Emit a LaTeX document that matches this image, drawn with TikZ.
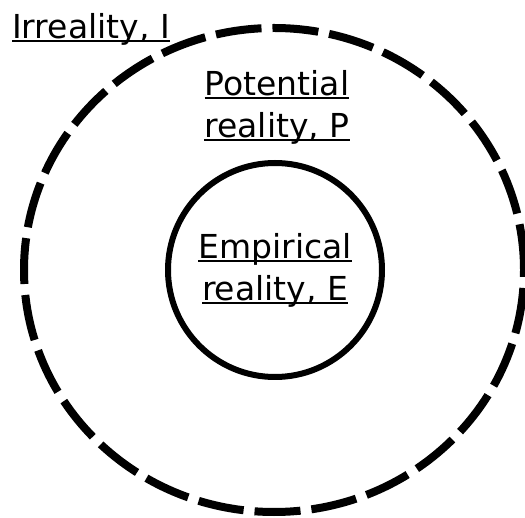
\documentclass[tikz,border=0pt]{standalone}
\usepackage{fontspec}
\setmainfont{DejaVu Sans}
\usetikzlibrary{positioning}

\newlength\ulwidth
\newcommand{\ulin}[1]{\settowidth{\ulwidth}{#1}\rlap{\rule[-3.5pt]{\ulwidth}{2pt}}#1}

\begin{document}
\begin{tikzpicture}[
    x=1pt, y=1pt,
    realm/.style={circle, draw, line width=6pt, minimum size=214pt, inner sep=0pt, align=center},
    outerrealm/.style={line width=8pt, dash pattern=on 46pt off 11pt},
    realmlabel/.style={inner sep=0pt, align=center, font=\fontsize{33}{42}\selectfont}
]
\useasboundingbox (0,0) rectangle (525,517);

% Outer realm: potential reality (dashed)
\coordinate (pc) at (274,247);
\draw[outerrealm] (pc) ellipse (250 and 242);

% Inner realm: empirical reality (solid)
\node[realm, realmlabel, line width=6pt] (emp) at (275,247) {\ulin{Empirical}\\\ulin{reality, E}};

% Labels
\node[realmlabel] (pot) at (277,409.5) {\ulin{Potential}\\\ulin{reality, P}};
\node[realmlabel, anchor=base west] (irr) at (12,478) {\ulin{Irreality, I}};

\end{tikzpicture}
\end{document}
